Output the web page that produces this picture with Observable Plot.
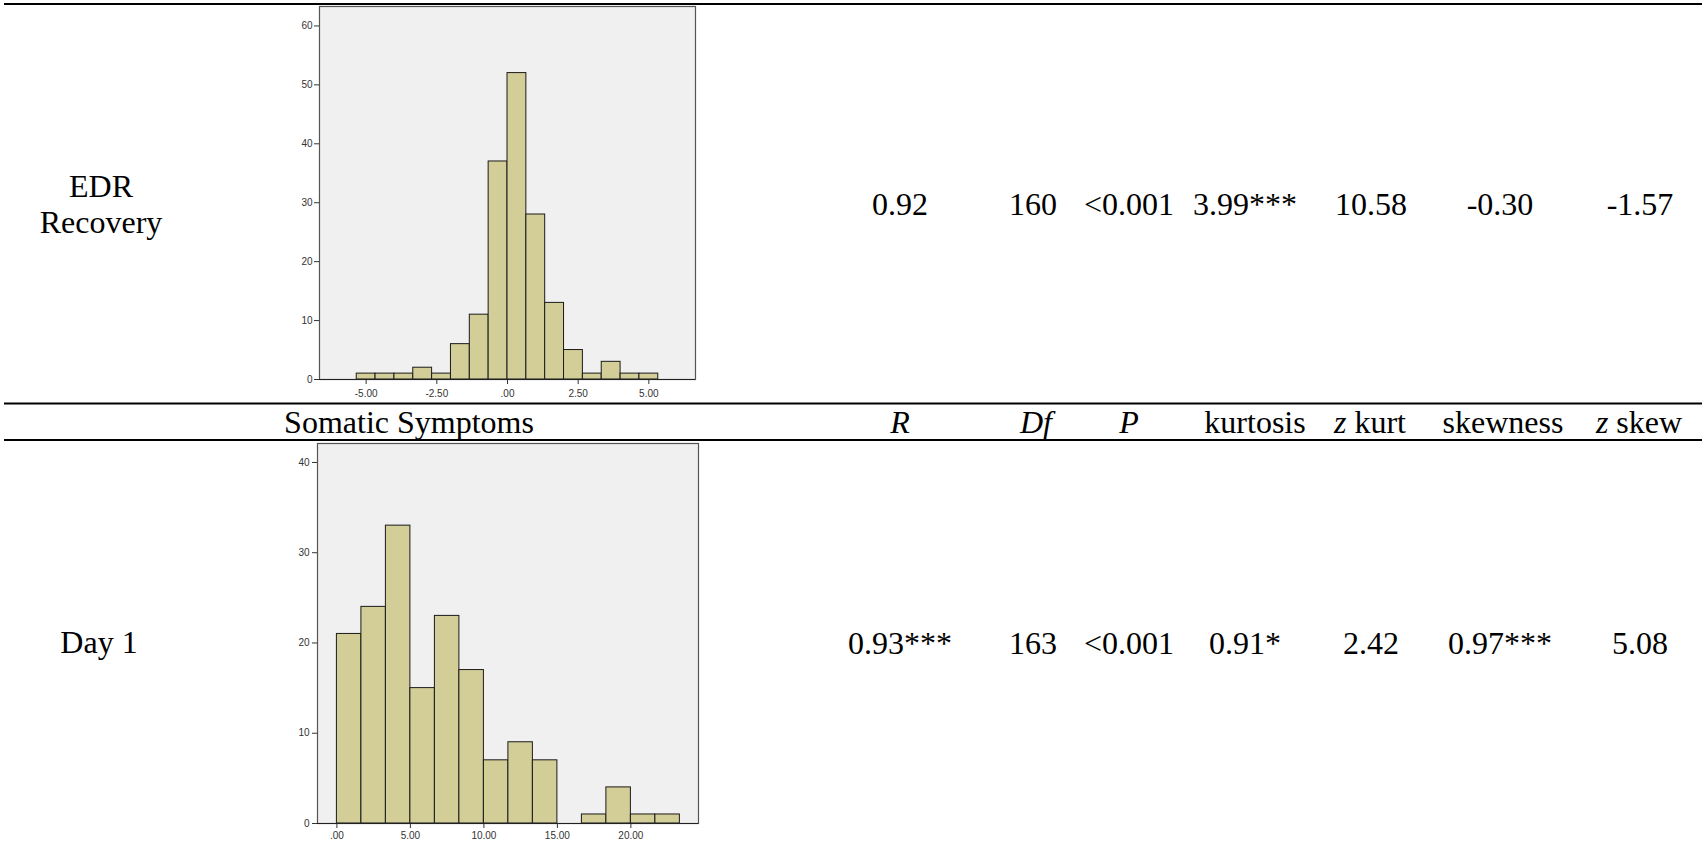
<!DOCTYPE html>
<html>
<head>
<meta charset="utf-8">
<script src="https://cdn.jsdelivr.net/npm/d3@7"></script>
<script src="https://cdn.jsdelivr.net/npm/@observablehq/plot@0.6"></script>
<style>
  html, body { margin: 0; padding: 0; background: #fff; }
  #root { position: relative; width: 1708px; height: 843px; background: #fff; overflow: hidden; }
  #table { position: absolute; left: 0; top: 0; }
  .chart { position: absolute; }
  .chart svg { display: block; overflow: visible; }
  .cell { position: absolute; font-size: 32px; line-height: 32px; color: #000; white-space: nowrap; transform: translateX(-50%); }
</style>
</head>
<body>
<div id="root">
  <svg id="table" width="1708" height="843"></svg>
  <div id="c1" class="chart" style="left:270px; top:0px;"></div>
  <div id="c2" class="chart" style="left:270px; top:436px;"></div>
</div>
<script>
// ---------- DATA ----------
// EDR Recovery histogram
const edrBinEdges = [-5.333, -4.667, -4.0, -3.333, -2.667, -2.0, -1.333, -0.667, 0.0, 0.667, 1.333, 2.0, 2.667, 3.333, 4.0, 4.667, 5.333];
const edrCounts   = [1, 1, 1, 2, 1, 6, 11, 37, 52, 28, 13, 5, 1, 3, 1, 1];
const edrXTicks      = [-5, -2.5, 0, 2.5, 5];
const edrXTickLabels = ["-5.00", "-2.50", ".00", "2.50", "5.00"];
const edrYTicks      = [0, 10, 20, 30, 40, 50, 60];

// Somatic Symptoms Day 1 histogram
const somBinEdges = [0, 1.667, 3.333, 5.0, 6.667, 8.333, 10.0, 11.667, 13.333, 15.0, 16.667, 18.333, 20.0, 21.667, 23.333];
const somCounts   = [21, 24, 33, 15, 23, 17, 7, 9, 7, 0, 1, 4, 1, 1];
const somXTicks      = [0, 5, 10, 15, 20];
const somXTickLabels = [".00", "5.00", "10.00", "15.00", "20.00"];
const somYTicks      = [0, 10, 20, 30, 40];

// Table text
const rowLabelsEdr   = ["EDR", "Recovery"];
const sectionTitle   = "Somatic Symptoms";
const rowLabelSom    = "Day 1";
const columnHeaders  = [["R", ""], ["Df", ""], ["P", ""], ["", "kurtosis"], ["z", " kurt"], ["", "skewness"], ["z", " skew"]]; // [italic part, roman part]
const edrStats       = ["0.92", "160", "<0.001", "3.99***", "10.58", "-0.30", "-1.57"];
const somStats       = ["0.93***", "163", "<0.001", "0.91*", "2.42", "0.97***", "5.08"];

// ---------- LAYOUT ----------
const headerX = [900, 1036, 1129, 1255, 1370, 1503, 1639];
const valueX  = [900, 1033, 1129, 1245, 1371, 1500, 1640];
const BASE = 27; // baseline offset from top of a 32px line box
const serifCss = "font-family:'Liberation Serif'";

const root = d3.select("#root");
const svg = d3.select("#table");
// horizontal rules of the table
[4, 403.5, 440].forEach(y => {
  svg.append("line").attr("x1", 4).attr("x2", 1702).attr("y1", y).attr("y2", y)
    .attr("stroke", "#000").attr("stroke-width", 2.2);
});

function cell(x, baseline, italicPart, romanPart) {
  const d = root.append("div").attr("class", "cell")
    .attr("style", `left:${x}px; top:${baseline - BASE}px; ${serifCss}`);
  if (italicPart) d.append("span").attr("style", `${serifCss}; font-style:italic`).text(italicPart);
  if (romanPart) d.append("span").attr("style", serifCss).text(romanPart);
  return d;
}

// Row 1
cell(101, 197, "", rowLabelsEdr[0]);
cell(101, 233, "", rowLabelsEdr[1]);
edrStats.forEach((s, i) => cell(valueX[i], 215, "", s));

// Header row
cell(409, 433, "", sectionTitle);
columnHeaders.forEach((h, i) => cell(headerX[i], 433, h[0], h[1].replace(/^ /, "\u00a0")));

// Row 2
cell(99, 653, "", rowLabelSom);
somStats.forEach((s, i) => cell(valueX[i], 654, "", s));

// ---------- HISTOGRAMS ----------
function makeBins(edges, counts) {
  return counts.map((c, i) => ({x1: edges[i], x2: edges[i + 1], count: c})).filter(d => d.count > 0);
}

const axisStyle = {
  fontSize: "10px",
  fontFamily: "Liberation Sans",
  color: "#333",
  background: "transparent",
  overflow: "visible"
};

const barFill = "#d3ce97";
const frameFill = "#f0f0f0";

const chart1 = Plot.plot({
  width: 440,
  height: 405,
  marginLeft: 49,
  marginRight: 15,
  marginTop: 6,
  marginBottom: 26,
  style: axisStyle,
  x: {
    domain: [-6.65, 6.65],
    ticks: edrXTicks,
    tickFormat: d => edrXTickLabels[edrXTicks.indexOf(d)],
    tickSize: 5,
    tickPadding: 5,
    label: null
  },
  y: {
    domain: [0, 63.3],
    ticks: edrYTicks,
    tickSize: 5,
    tickPadding: 2,
    label: null
  },
  marks: [
    Plot.frame({fill: frameFill, stroke: "none"}),
    Plot.rectY(makeBins(edrBinEdges, edrCounts), {x1: "x1", x2: "x2", y: "count", fill: barFill, stroke: "#1a1a1a", strokeWidth: 1, inset: 0}),
    Plot.frame({stroke: "#555", strokeWidth: 1.2}),
    Plot.ruleY([0], {stroke: "#222"})
  ]
});
document.getElementById("c1").appendChild(chart1);

const chart2 = Plot.plot({
  width: 440,
  height: 407,
  marginLeft: 47,
  marginRight: 12,
  marginTop: 7,
  marginBottom: 20,
  style: axisStyle,
  x: {
    domain: [-1.32, 24.6],
    ticks: somXTicks,
    tickFormat: d => somXTickLabels[somXTicks.indexOf(d)],
    tickSize: 5,
    tickPadding: 3.5,
    label: null
  },
  y: {
    domain: [0, 42.1],
    ticks: somYTicks,
    tickSize: 5,
    tickPadding: 3,
    label: null
  },
  marks: [
    Plot.frame({fill: frameFill, stroke: "none"}),
    Plot.rectY(makeBins(somBinEdges, somCounts), {x1: "x1", x2: "x2", y: "count", fill: barFill, stroke: "#1a1a1a", strokeWidth: 1, inset: 0}),
    Plot.frame({stroke: "#555", strokeWidth: 1.2}),
    Plot.ruleY([0], {stroke: "#222"})
  ]
});
document.getElementById("c2").appendChild(chart2);
</script>
</body>
</html>
